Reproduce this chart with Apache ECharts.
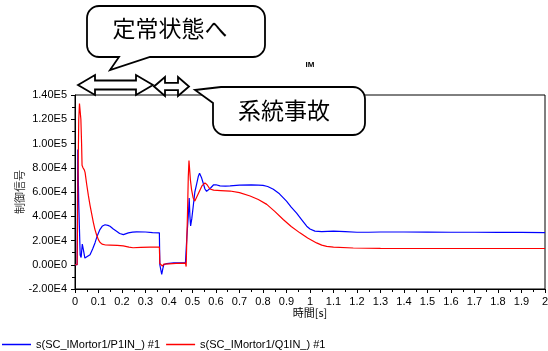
<!DOCTYPE html>
<html><head><meta charset="utf-8">
<script src="https://cdn.jsdelivr.net/npm/echarts@6/dist/echarts.min.js"></script>
<style>html,body{margin:0;padding:0;background:#fff}#c{width:548px;height:351px}</style>
</head><body><div id="c"></div>
<script>
// ---- data ----
const seriesNames = ['s(SC_IMortor1/P1IN_) #1', 's(SC_IMortor1/Q1IN_) #1'];
const p1Time = [0,0.009,0.012,0.016,0.022,0.026,0.031,0.036,0.042,0.05,0.064,0.075,0.085,0.095,0.106,0.117,0.128,0.14,0.149,0.163,0.177,0.19,0.206,0.215,0.227,0.245,0.262,0.3,0.33,0.359,0.361,0.364,0.369,0.374,0.378,0.39,0.42,0.47,0.472,0.476,0.482,0.486,0.489,0.492,0.497,0.503,0.51,0.518,0.525,0.53,0.535,0.539,0.546,0.553,0.56,0.567,0.578,0.589,0.6,0.617,0.64,0.66,0.7,0.75,0.78,0.8,0.82,0.844,0.87,0.9,0.92,0.943,0.965,0.986,1.0,1.021,1.05,1.1,1.15,1.2,1.25,1.3,1.4,1.5,1.6,1.7,1.8,1.9,2.0];
const p1Values = [0,0,95000,50000,8000,6000,17000,12000,5500,5500,8300,13000,18000,24000,29000,32000,33000,32500,31800,29500,27700,25800,24900,25500,26300,26900,27100,27000,26500,26300,0,-3000,-8000,-3000,0,1000,1500,1500,3000,23000,40000,55000,40000,32000,38000,48000,60000,67000,73000,75500,74000,71500,67000,62500,60500,60300,63500,65800,66000,65000,64800,65000,65600,65800,65700,65500,64500,62200,58500,52500,47500,42500,37000,31800,29500,27700,27300,27800,27300,26800,26800,27000,27000,26900,26800,26800,26700,26700,26500];
const q1Time = [0,0.009,0.012,0.016,0.019,0.022,0.025,0.028,0.03,0.034,0.04,0.043,0.05,0.057,0.064,0.071,0.078,0.085,0.092,0.1,0.106,0.115,0.13,0.15,0.18,0.205,0.23,0.247,0.28,0.32,0.359,0.361,0.366,0.372,0.378,0.385,0.4,0.43,0.47,0.473,0.476,0.479,0.482,0.485,0.489,0.491,0.496,0.503,0.51,0.518,0.528,0.54,0.553,0.562,0.574,0.59,0.62,0.66,0.7,0.745,0.78,0.816,0.85,0.886,0.92,0.957,0.99,1.028,1.05,1.071,1.1,1.184,1.3,1.5,1.7,2.0];
const q1Values = [0,0,60000,120000,133000,132000,120000,100000,82000,80000,78000,76000,66000,57000,49000,42000,35000,29000,24500,20500,18500,17000,16300,16200,16000,15500,14500,14000,14300,14500,14600,1000,-500,-1200,500,-500,800,1200,1300,-1500,-1000,45000,72000,86000,86000,70000,62000,55000,52500,54000,60000,65000,67500,66000,62500,61500,61200,60800,59500,56700,53800,49800,44000,37300,31500,26300,22000,18000,16200,15200,14500,13800,13500,13400,13400,13400];
const calloutTexts = ['定常状態へ', '系統事故'];

const pairs = (t, v) => t.map((x, i) => [x, v[i]]);

function arc(cx, cy, r, a0, a1, n) {
  const out = [];
  for (let i = 0; i <= n; i++) {
    const a = a0 + (a1 - a0) * i / n;
    out.push([cx + r * Math.cos(a), cy + r * Math.sin(a)]);
  }
  return out;
}
const P = Math.PI;
// bubble 1: tail on bottom edge
function bubble1() {
  const x0 = 87, y0 = 6, x1 = 265, y1 = 57, r = 12;
  return [].concat(
    arc(x0 + r, y0 + r, r, P, 1.5 * P, 8),
    arc(x1 - r, y0 + r, r, 1.5 * P, 2 * P, 8),
    arc(x1 - r, y1 - r, r, 0, 0.5 * P, 8),
    [[150, y1], [110, 70], [119, y1]],
    arc(x0 + r, y1 - r, r, 0.5 * P, P, 8)
  );
}
// bubble 2: tail at top-left corner
function bubble2() {
  const x0 = 213, y0 = 87, x1 = 365, y1 = 135, r = 12;
  return [].concat(
    [[195, 90], [221, y0]],
    arc(x1 - r, y0 + r, r, 1.5 * P, 2 * P, 8),
    arc(x1 - r, y1 - r, r, 0, 0.5 * P, 8),
    arc(x0 + r, y1 - r, r, 0.5 * P, P, 8),
    [[x0, 103]]
  );
}
function dblArrow(xl, xr, yc, hh, sh, hl) {
  return [[xl, yc], [xl + hl, yc - hh], [xl + hl, yc - sh], [xr - hl, yc - sh], [xr - hl, yc - hh],
          [xr, yc], [xr - hl, yc + hh], [xr - hl, yc + sh], [xl + hl, yc + sh], [xl + hl, yc + hh]];
}
const shapeStyle = { fill: '#fff', stroke: '#000', lineWidth: 1.8 };
const cjk = "'Noto Sans CJK JP', sans-serif";
const latin = "'Liberation Sans', Arial, sans-serif";

const chart = echarts.init(document.getElementById('c'));
chart.setOption({
  animation: false,
  backgroundColor: '#fff',
  title: { text: 'IM', left: 310, top: 61, textAlign: 'center', padding: 0,
    textStyle: { fontSize: 8, fontWeight: 'bold', fontFamily: latin, color: '#000' } },
  grid: { left: 75, right: 3, top: 95, bottom: 62, show: true, borderColor: '#000', borderWidth: 1,
    containLabel: false, outerBoundsMode: 'none' },
  legend: {
    left: 2, top: 339, padding: 0, icon: 'rect', itemWidth: 29, itemHeight: 1.5, itemGap: 6,
    textStyle: { fontSize: 11, fontFamily: latin, color: '#000' },
    data: seriesNames
  },
  xAxis: {
    type: 'value', min: 0, max: 2, interval: 0.1,
    name: '時間[s]', nameLocation: 'middle', nameGap: 18, nameMoveOverlap: false,
    nameTextStyle: { fontSize: 11, fontFamily: cjk, color: '#000' },
    axisLine: { show: true, onZero: false, lineStyle: { color: '#000', width: 1 } },
    axisTick: { show: true, inside: false, length: 4, lineStyle: { color: '#000' } },
    minorTick: { show: true, splitNumber: 2, length: 3, lineStyle: { color: '#000' } },
    splitLine: { show: false },
    axisLabel: { margin: 7, fontSize: 11, fontFamily: latin, color: '#000',
      formatter: v => String(Math.round(v * 10) / 10) }
  },
  yAxis: {
    type: 'value', min: -20000, max: 140000, interval: 20000,
    name: '制御信号', nameLocation: 'middle', nameGap: 50, nameRotate: 90, nameMoveOverlap: false,
    nameTextStyle: { fontSize: 11, fontFamily: cjk, color: '#333' },
    axisLine: { show: true, onZero: false, lineStyle: { color: '#000', width: 1 } },
    axisTick: { show: true, inside: false, length: 4, lineStyle: { color: '#000' } },
    minorTick: { show: true, splitNumber: 2, length: 3, lineStyle: { color: '#000' } },
    splitLine: { show: false },
    axisLabel: { margin: 8, fontSize: 11, fontFamily: latin, color: '#000',
      formatter: v => v.toExponential(2).replace('e+', 'E').replace('e-', 'E-') }
  },
  series: [
    { name: seriesNames[0], type: 'line', data: pairs(p1Time, p1Values), symbol: 'none',
      lineStyle: { color: '#0000ff', width: 1.2 }, itemStyle: { color: '#0000ff' } },
    { name: seriesNames[1], type: 'line', data: pairs(q1Time, q1Values), symbol: 'none',
      lineStyle: { color: '#ff0000', width: 1.2 }, itemStyle: { color: '#ff0000' } }
  ],
  graphic: [
    { type: 'polygon', z: 100, shape: { points: bubble1() }, style: shapeStyle },
    { type: 'text', z: 101, x: 170, y: 28, style: { text: calloutTexts[0], fontSize: 23, fontFamily: cjk, fill: '#000', align: 'center', verticalAlign: 'middle' } },
    { type: 'polygon', z: 100, shape: { points: bubble2() }, style: shapeStyle },
    { type: 'text', z: 101, x: 284, y: 110, style: { text: calloutTexts[1], fontSize: 23, fontFamily: cjk, fill: '#000', align: 'center', verticalAlign: 'middle' } },
    { type: 'polygon', z: 100, shape: { points: dblArrow(78, 153, 85, 10, 4.5, 17) }, style: shapeStyle },
    { type: 'polygon', z: 100, shape: { points: dblArrow(154, 189, 86.5, 9.5, 3.7, 11) }, style: shapeStyle }
  ]
});
</script>
</body></html>
